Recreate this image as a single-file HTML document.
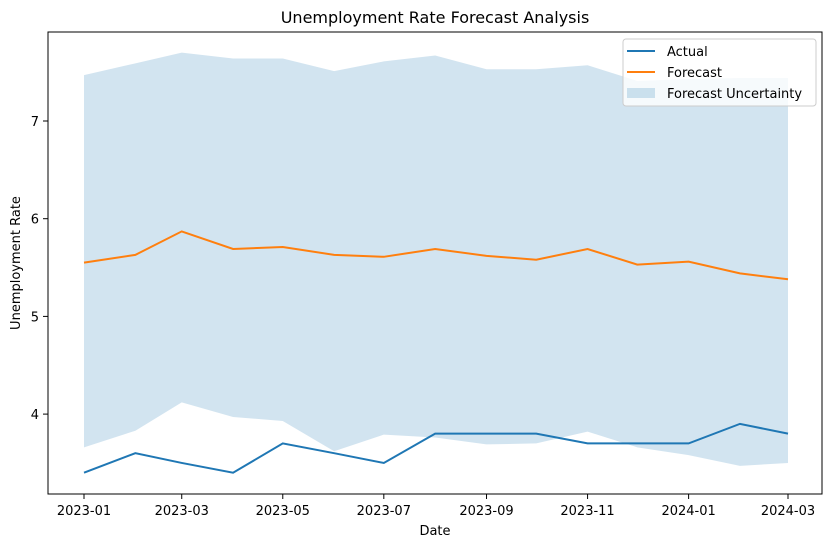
<!DOCTYPE html>
<html><head><meta charset="utf-8"><style>
body{margin:0;background:#fff;font-family:"DejaVu Sans","Liberation Sans",sans-serif;}
svg text{font-family:"DejaVu Sans","Liberation Sans",sans-serif;}
</style></head><body>
<svg id="chart" width="833" height="547" xmlns="http://www.w3.org/2000/svg">
<rect width="833" height="547" fill="#fff"/>
<g id="plot"></g>
<rect x="48" y="32" width="774" height="462" fill="none" stroke="#000" stroke-width="1"/>
<text x="435" y="23" text-anchor="middle" font-size="16">Unemployment Rate Forecast Analysis</text>
<text x="435" y="535" text-anchor="middle" font-size="13">Date</text>
<text x="20" y="263" text-anchor="middle" font-size="13" transform="rotate(-90 20 263)">Unemployment Rate</text>
<g id="legend">
<rect x="623" y="39" width="193" height="67" rx="3" fill="#fff" fill-opacity="0.8" stroke="#ccc"/>
<line x1="627" y1="51" x2="655" y2="51" stroke="#1f77b4" stroke-width="2"/>
<text x="667" y="56" font-size="13">Actual</text>
<line x1="627" y1="72" x2="655" y2="72" stroke="#ff7f0e" stroke-width="2"/>
<text x="667" y="77" font-size="13">Forecast</text>
<rect x="627" y="88" width="28" height="10" fill="#1f77b4" fill-opacity="0.2"/>
<text x="667" y="98" font-size="13">Forecast Uncertainty</text>
</g>
</svg>
<script>
const dates=["2023-01-01","2023-02-01","2023-03-01","2023-04-01","2023-05-01","2023-06-01","2023-07-01","2023-08-01","2023-09-01","2023-10-01","2023-11-01","2023-12-01","2024-01-01","2024-02-01","2024-03-01"];
const actual=[3.4,3.6,3.5,3.4,3.7,3.6,3.5,3.8,3.8,3.8,3.7,3.7,3.7,3.9,3.8];
const forecast=[5.55,5.63,5.87,5.69,5.71,5.63,5.61,5.69,5.62,5.58,5.69,5.53,5.56,5.44,5.38];
const upper=[7.47,7.59,7.70,7.64,7.64,7.51,7.61,7.67,7.53,7.53,7.57,7.41,7.43,7.44,7.44];
const lower=[3.66,3.83,4.12,3.97,3.93,3.62,3.79,3.76,3.69,3.70,3.82,3.66,3.58,3.47,3.50];
const yTicks=[4,5,6,7];
const xTicks=["2023-01","2023-03","2023-05","2023-07","2023-09","2023-11","2024-01","2024-03"];
const NS="http://www.w3.org/2000/svg";
const t0=Date.parse("2023-01-01"),t1=Date.parse("2024-03-01");
function xs(d){return 84+(Date.parse(d)-t0)/(t1-t0)*704;}
function ys(v){return 121+(7-v)*97.7;}
const g=document.getElementById('plot');
function mk(tag,attrs){const e=document.createElementNS(NS,tag);for(const k in attrs)e.setAttribute(k,attrs[k]);g.appendChild(e);return e;}
let band=dates.map((d,i)=>xs(d)+","+ys(upper[i])).concat(dates.map((d,i)=>xs(d)+","+ys(lower[i])).reverse());
const b=mk('polygon',{points:band.join(" "),fill:"#1f77b4","fill-opacity":"0.2"});


const la=mk('polyline',{points:dates.map((d,i)=>xs(d)+","+ys(actual[i])).join(" "),fill:"none",stroke:"#1f77b4","stroke-width":"2"});


const lf=mk('polyline',{points:dates.map((d,i)=>xs(d)+","+ys(forecast[i])).join(" "),fill:"none",stroke:"#ff7f0e","stroke-width":"2"});


yTicks.forEach(v=>{const y=ys(v);
 const l=mk('line',{x1:43,x2:48,y1:y,y2:y,stroke:"#000"});
 
 
 const t=mk('text',{x:39,y:y+5,"text-anchor":"end","font-size":"13"});t.textContent=v;
 
 });
xTicks.forEach(s=>{const x=xs(s+"-01");
 const l=mk('line',{x1:x,x2:x,y1:494,y2:499,stroke:"#000"});
 
 
 const t=mk('text',{x:x,y:515,"text-anchor":"middle","font-size":"13"});t.textContent=s;
 
 });
</script>
</body></html>
